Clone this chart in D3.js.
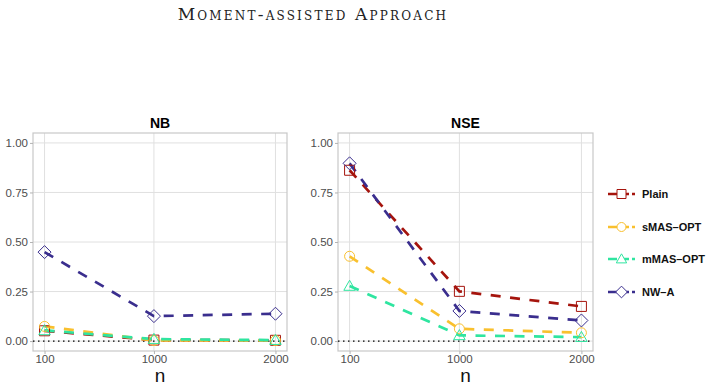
<!DOCTYPE html>
<html><head><meta charset="utf-8">
<script src="https://cdn.jsdelivr.net/npm/d3@7"></script>
<style>body{margin:0;background:#fff}svg{display:block}</style>
</head><body>
<svg id="c" width="714" height="385"></svg>
<script>
const nValues = [100, 1000, 2000];
const seriesNames = ["Plain", "sMAS-OPT", "mMAS-OPT", "NW-A"];
const panels = ["NB", "NSE"];
// values per series, per panel
const nbPlain = [0.052, 0.005, 0.004];
const nbSmas  = [0.074, 0.003, 0.003];
const nbMmas  = [0.054, 0.010, 0.005];
const nbNwa   = [0.449, 0.126, 0.138];
const nsePlain = [0.862, 0.251, 0.175];
const nseSmas  = [0.428, 0.062, 0.042];
const nseMmas  = [0.278, 0.029, 0.020];
const nseNwa   = [0.897, 0.152, 0.104];
const yTicks = [0, 0.25, 0.5, 0.75, 1.0];
const colors = ["#A5140D", "#F9C02E", "#2FE5A0", "#3A2E8E"];
const shapes = ["square", "circle", "triangle", "diamond"];

const data = {
  NB: [nbPlain, nbSmas, nbMmas, nbNwa],
  NSE: [nsePlain, nseSmas, nseMmas, nseNwa]
};

const svg = d3.select("#c");
svg.append("text").attr("x", 313).attr("y", 20).attr("text-anchor", "middle")
  .attr("font-family", "DejaVu Serif, Liberation Serif, serif")
  .attr("font-size", 17).attr("letter-spacing", 2.2).attr("font-variant", "small-caps").attr("fill", "#222")
  .text("Moment-assisted Approach");

const panelBox = [{x0: 33, x1: 287}, {x0: 338, x1: 593}];
const pTop = 133, pBottom = 351;
const y = d3.scaleLinear().domain([-0.05, 1.05]).range([pBottom, pTop]);

function shapePath(s, sz) {
  const h = sz / 2;
  if (s === "square") return `M${-h},${-h}H${h}V${h}H${-h}Z`;
  if (s === "circle") return d3.symbol(d3.symbolCircle, Math.PI * h * h)();
  if (s === "triangle") { const r = h * 1.15; return `M0,${-r}L${r},${r * 0.75}L${-r},${r * 0.75}Z`; }
  if (s === "diamond") { const r = h * 1.3; return `M0,${-r}L${r},0L0,${r}L${-r},0Z`; }
}

panels.forEach((p, i) => {
  const b = panelBox[i];
  const x = d3.scaleLinear().domain([5, 2095]).range([b.x0, b.x1]);
  const g = svg.append("g");
  g.selectAll(".gy").data(yTicks).join("line")
    .attr("x1", b.x0).attr("x2", b.x1).attr("y1", d => y(d)).attr("y2", d => y(d))
    .attr("stroke", "#e0e0e0").attr("stroke-width", 1);
  g.selectAll(".gx").data(nValues).join("line")
    .attr("x1", d => x(d)).attr("x2", d => x(d)).attr("y1", pTop).attr("y2", pBottom)
    .attr("stroke", "#e0e0e0").attr("stroke-width", 1);
  g.append("rect").attr("x", b.x0).attr("y", pTop).attr("width", b.x1 - b.x0).attr("height", pBottom - pTop)
    .attr("fill", "none").attr("stroke", "#c8c8c8").attr("stroke-width", 1.2);
  const ya = g.append("g").attr("transform", `translate(${b.x0},0)`)
    .call(d3.axisLeft(y).tickValues(yTicks).tickFormat(d3.format(".2f")).tickSize(3).tickPadding(2));
  const xa = g.append("g").attr("transform", `translate(0,${pBottom})`)
    .call(d3.axisBottom(x).tickValues(nValues).tickFormat(d3.format("d")).tickSize(3).tickPadding(1));
  [ya, xa].forEach(a => {
    a.select(".domain").remove();
    a.selectAll("line").attr("stroke", "#b3b3b3");
    a.selectAll("text").attr("fill", "#4d4d4d").attr("font-size", 11.5)
      .attr("font-family", "Liberation Sans, Arial, sans-serif");
  });
  g.append("text").attr("x", (b.x0 + b.x1) / 2).attr("y", 128).attr("text-anchor", "middle")
    .attr("font-family", "Liberation Sans, Arial, sans-serif").attr("font-weight", "bold")
    .attr("font-size", 14).text(p);
  g.append("text").attr("x", (b.x0 + b.x1) / 2).attr("y", 382).attr("text-anchor", "middle")
    .attr("font-family", "Liberation Sans, Arial, sans-serif")
    .attr("font-size", 19).attr("fill", "#111").text("n");
  g.append("line").attr("x1", b.x0).attr("x2", b.x1).attr("y1", y(0)).attr("y2", y(0))
    .attr("stroke", "#000").attr("stroke-width", 1.3).attr("stroke-dasharray", "1.5,3.5");
  const line = d3.line().x((d, j) => x(nValues[j])).y(d => y(d));
  data[p].forEach((vals, k) => {
    g.append("path").datum(vals).attr("d", line).attr("fill", "none")
      .attr("stroke", colors[k]).attr("stroke-width", 2.7).attr("stroke-dasharray", "10,9.5");
  });
  data[p].forEach((vals, k) => {
    g.selectAll(null).data(vals).join("path")
      .attr("transform", (d, j) => `translate(${x(nValues[j])},${y(d)})`)
      .attr("d", shapePath(shapes[k], 10)).attr("fill", "none")
      .attr("stroke", colors[k]).attr("stroke-width", 1);
  });
});

const legY = [194, 227, 259, 292];
const lg = svg.append("g");
seriesNames.forEach((s, k) => {
  lg.append("line").attr("x1", 608).attr("x2", 635).attr("y1", legY[k]).attr("y2", legY[k])
    .attr("stroke", colors[k]).attr("stroke-width", 2.6).attr("stroke-dasharray", "9,3");
  lg.append("path").attr("transform", `translate(621.5,${legY[k]})`)
    .attr("d", shapePath(shapes[k], 9)).attr("fill", "#fff")
    .attr("stroke", colors[k]).attr("stroke-width", 1);
  lg.append("text").attr("x", 642).attr("y", legY[k] + 4)
    .attr("font-family", "Liberation Sans, Arial, sans-serif").attr("font-weight", "bold")
    .attr("font-size", 11).attr("fill", "#111").text(s.replace("-", "\u2013"));
});
</script>
</body></html>
